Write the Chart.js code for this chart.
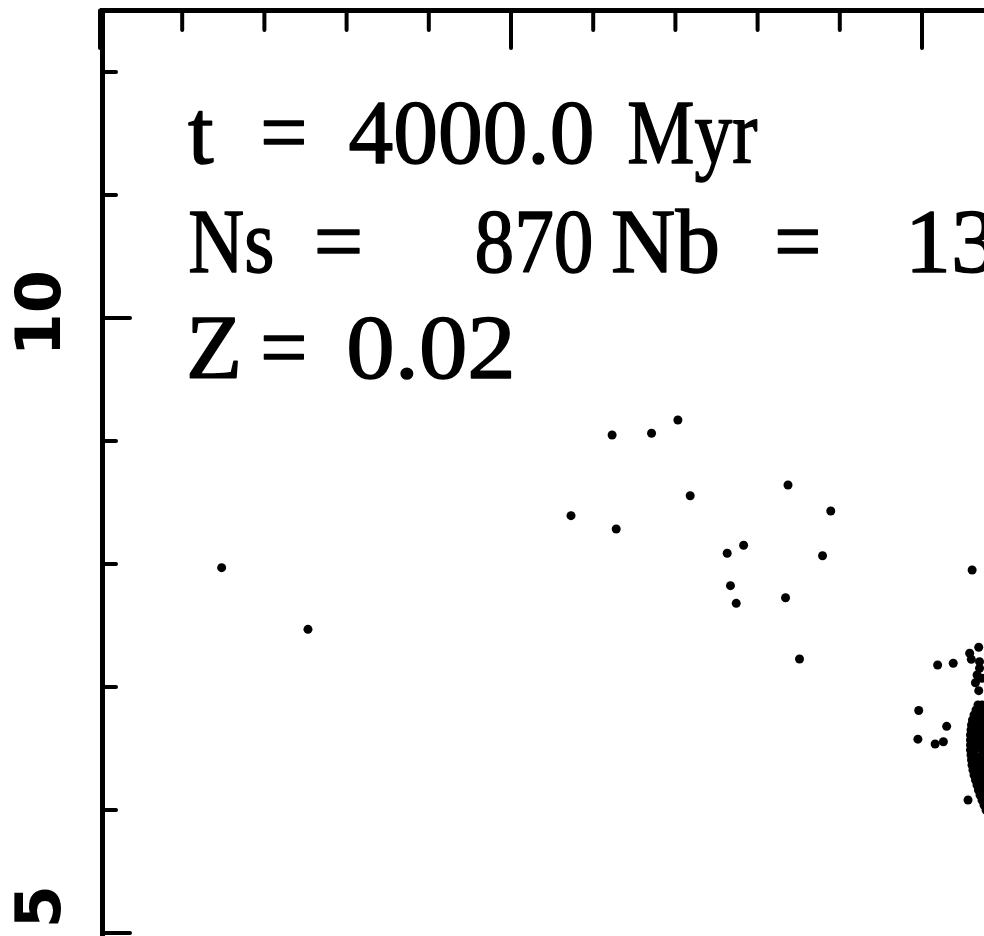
<!DOCTYPE html>
<html>
<head>
<meta charset="utf-8">
<script src="https://cdn.jsdelivr.net/npm/chart.js@4.4.1/dist/chart.umd.min.js"></script>
<style>
  html, body { margin: 0; padding: 0; background: #fff; overflow: hidden; }
  #hrd { display: block; }
</style>
</head>
<body>
<canvas id="hrd" width="1160" height="1100"></canvas>
<script>
// scattered stars (colour, magnitude)
const starBV = [-0.352, -0.247, 0.073, 0.123, 0.171, 0.203, 0.218, 0.128, 0.337, 0.389,
  0.283, 0.263, 0.379, 0.267, 0.274, 0.334, 0.351, 0.561, 0.569, 0.558,
  0.560, 0.519, 0.538, 0.570, 0.570, 0.567, 0.573, 0.565, 0.569, 0.496,
  0.530, 0.495, 0.516, 0.526, 0.556];
const starMag = [7.970, 7.469, 8.393, 9.049, 9.063, 9.171, 8.555, 8.285, 8.642, 8.431,
  8.152, 8.087, 8.067, 7.824, 7.680, 7.726, 7.228, 7.951, 7.323, 7.274,
  7.225, 7.179, 7.193, 7.206, 7.152, 7.098, 7.071, 7.035, 6.970, 6.809,
  6.680, 6.576, 6.537, 6.555, 6.081];
// main sequence band at the turnoff (read row by row)
const msBV = [
  0.5681, 0.5730, 0.5779, 0.5827,
  0.5657, 0.5706, 0.5754, 0.5803,
  0.5633, 0.5681, 0.5730, 0.5779, 0.5827,
  0.5614, 0.5663, 0.5712, 0.5760, 0.5809,
  0.5602, 0.5651, 0.5699, 0.5748, 0.5797,
  0.5596, 0.5645, 0.5693, 0.5742, 0.5791,
  0.5590, 0.5639, 0.5687, 0.5736, 0.5785,
  0.5590, 0.5639, 0.5687, 0.5736, 0.5785,
  0.5590, 0.5639, 0.5687, 0.5736, 0.5785,
  0.5590, 0.5639, 0.5736, 0.5785,
  0.5596, 0.5645, 0.5742, 0.5791,
  0.5602, 0.5651, 0.5699, 0.5748, 0.5797,
  0.5608, 0.5657, 0.5706, 0.5754, 0.5803,
  0.5620, 0.5669, 0.5718, 0.5766, 0.5815,
  0.5633, 0.5681, 0.5730, 0.5779, 0.5827,
  0.5651, 0.5699, 0.5748, 0.5797,
  0.5669, 0.5718, 0.5766, 0.5815,
  0.5687, 0.5736, 0.5785, 0.5833,
  0.5706, 0.5754, 0.5803,
  0.5730, 0.5779, 0.5827,
  0.5754, 0.5803,
  0.5779];
const msMag = [
  6.854, 6.854, 6.854, 6.854,
  6.813, 6.813, 6.813, 6.813,
  6.772, 6.772, 6.772, 6.772, 6.772,
  6.732, 6.732, 6.732, 6.732, 6.732,
  6.691, 6.691, 6.691, 6.691, 6.691,
  6.650, 6.650, 6.650, 6.650, 6.650,
  6.610, 6.610, 6.610, 6.610, 6.610,
  6.569, 6.569, 6.569, 6.569, 6.569,
  6.528, 6.528, 6.528, 6.528, 6.528,
  6.488, 6.488, 6.488, 6.488,
  6.447, 6.447, 6.447, 6.447,
  6.407, 6.407, 6.407, 6.407, 6.407,
  6.366, 6.366, 6.366, 6.366, 6.366,
  6.325, 6.325, 6.325, 6.325, 6.325,
  6.285, 6.285, 6.285, 6.285, 6.285,
  6.244, 6.244, 6.244, 6.244,
  6.203, 6.203, 6.203, 6.203,
  6.163, 6.163, 6.163, 6.163,
  6.122, 6.122, 6.122,
  6.081, 6.081, 6.081,
  6.041, 6.041,
  6.000];

const xMajorTicks = [-0.5, 0, 0.5];
const xMinorTicks = [-0.4, -0.3, -0.2, -0.1, 0.1, 0.2, 0.3, 0.4, 0.6, 0.7];
const yMajorTicks = [5, 10];
const yMinorTicks = [4, 6, 7, 8, 9, 11, 12];
const yTickLabels = [' 5', '10'];

const infoText = [
  ['t', '=', '4000.0', 'Myr'],
  ['Ns', '=', '870', 'Nb', '=', '13'],
  ['Z', '=', '0.02']
];

function toPoints(xs, ys) {
  let pts = [];
  for (let i = 0; i < xs.length; i++) {
    pts.push({x: xs[i], y: ys[i]});
  }
  return pts;
}

// draw text so its ink starts at left and spans inkWidth (0 = natural width)
function drawFit(ctx, text, left, baseline, inkWidth) {
  let m = ctx.measureText(text);
  let w = m.actualBoundingBoxLeft + m.actualBoundingBoxRight;
  let sx = inkWidth ? inkWidth / w : 1;
  ctx.save();
  ctx.translate(left, baseline);
  ctx.scale(sx, 1);
  ctx.fillText(text, m.actualBoundingBoxLeft, 0);
  ctx.strokeText(text, m.actualBoundingBoxLeft, 0);
  ctx.restore();
}

const framePlugin = {
  id: 'frame',
  afterDraw(chart) {
    const ctx = chart.ctx;
    const area = chart.chartArea;
    const xs = chart.scales.x;
    const ys = chart.scales.y;
    ctx.save();
    ctx.strokeStyle = '#000';
    ctx.lineCap = 'round';

    // box
    ctx.lineWidth = 5;
    ctx.strokeRect(area.left + 2.5, area.top, area.right - area.left - 2.5, area.bottom - area.top);

    // ticks along the top
    ctx.lineWidth = 4;
    xMinorTicks.forEach(v => {
      let px = xs.getPixelForValue(v);
      ctx.beginPath(); ctx.moveTo(px, area.top); ctx.lineTo(px, area.top + 19.5); ctx.stroke();
    });
    xMajorTicks.forEach(v => {
      let px = xs.getPixelForValue(v);
      ctx.beginPath(); ctx.moveTo(px, area.top); ctx.lineTo(px, area.top + 37.5); ctx.stroke();
    });
    // ticks along the left
    yMinorTicks.forEach(v => {
      let py = ys.getPixelForValue(v);
      ctx.beginPath(); ctx.moveTo(area.left + 2.5, py); ctx.lineTo(area.left + 16, py); ctx.stroke();
    });
    yMajorTicks.forEach(v => {
      let py = ys.getPixelForValue(v);
      ctx.beginPath(); ctx.moveTo(area.left + 2.5, py); ctx.lineTo(area.left + 30, py); ctx.stroke();
    });

    // rotated y labels
    ctx.fillStyle = '#000';
    ctx.font = 'bold 62px "DejaVu Sans"';
    ctx.textAlign = 'right';
    ctx.textBaseline = 'alphabetic';
    yMajorTicks.forEach((v, i) => {
      let py = ys.getPixelForValue(v);
      ctx.save();
      ctx.translate(60, py - 48);
      ctx.rotate(-Math.PI / 2);
      ctx.fillText(yTickLabels[i], 0, 0);
      ctx.restore();
    });

    // run info
    ctx.textAlign = 'left';
    ctx.font = '92px "Liberation Serif"';
    ctx.lineWidth = 1.5;
    ctx.lineJoin = 'round';
    const lefts = [[188, 264, 349.5, 629], [190, 317.5, 477, 613, 778, 913], [190, 264, 349.5]];
    const widths = [[0, 40, 242, 128], [82, 42, 114, 104, 40, 0], [0, 40, 161]];
    const baselines = [163, 272, 378];
    infoText.forEach((line, r) => {
      line.forEach((word, k) => {
        drawFit(ctx, word, lefts[r][k], baselines[r], widths[r][k]);
      });
    });
    ctx.restore();
  }
};

const ctx = document.getElementById('hrd').getContext('2d');
let chart = new Chart(ctx, {
  type: 'scatter',
  data: {
    datasets: [
      {
        data: toPoints(starBV, starMag),
        pointRadius: 4.5,
        pointBackgroundColor: '#000',
        pointBorderWidth: 0
      },
      {
        data: toPoints(msBV, msMag),
        pointRadius: 4.5,
        pointBackgroundColor: '#000',
        pointBorderWidth: 0
      }
    ]
  },
  options: {
    responsive: false,
    animation: false,
    devicePixelRatio: 1,
    layout: {padding: {left: 100, top: 10.5, right: 32.5, bottom: 44}},
    plugins: {legend: {display: false}, tooltip: {enabled: false}},
    scales: {
      x: {type: 'linear', min: -0.5, max: 0.75, display: false},
      y: {type: 'linear', min: 4, max: 12.5, display: false}
    }
  },
  plugins: [framePlugin]
});
</script>
</body>
</html>
